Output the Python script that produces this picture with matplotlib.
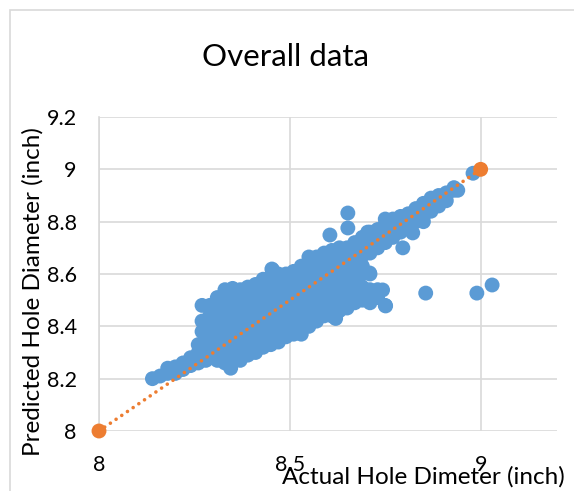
import matplotlib
matplotlib.use('Agg')
import matplotlib.pyplot as plt
from matplotlib.patches import Rectangle

plt.rcParams['font.family'] = ['Lato', 'DejaVu Sans']

# actual vs predicted hole diameter (inch)
actual = [
    8.14, 8.16, 8.18, 8.18, 8.20, 8.20, 8.22, 8.22, 8.24, 8.24,
    8.26, 8.26, 8.26, 8.28, 8.28, 8.28,
    8.27, 8.27, 8.27,
    8.29, 8.29, 8.29, 8.29, 8.29, 8.29,
    8.31, 8.31, 8.31, 8.31, 8.31, 8.31, 8.31,
    8.33, 8.33, 8.33, 8.33, 8.33, 8.33, 8.33, 8.33,
    8.345,
    8.35, 8.35, 8.35, 8.35, 8.35, 8.35, 8.35, 8.35,
    8.37, 8.37, 8.37, 8.37, 8.37, 8.37, 8.37, 8.37,
    8.39, 8.39, 8.39, 8.39, 8.39, 8.39, 8.39, 8.39,
    8.41, 8.41, 8.41, 8.41, 8.41, 8.41, 8.41, 8.41,
    8.43, 8.43, 8.43, 8.43, 8.43, 8.43, 8.43, 8.43,
    8.455,
    8.45, 8.45, 8.45, 8.45, 8.45, 8.45, 8.45, 8.45,
    8.47, 8.47, 8.47, 8.47, 8.47, 8.47, 8.47, 8.47,
    8.49, 8.49, 8.49, 8.49, 8.49, 8.49, 8.49,
    8.51, 8.51, 8.51, 8.51, 8.51, 8.51, 8.51,
    8.53, 8.53, 8.53, 8.53, 8.53, 8.53, 8.53, 8.53,
    8.55, 8.55, 8.55, 8.55, 8.55, 8.55, 8.55, 8.55,
    8.57, 8.57, 8.57, 8.57, 8.57, 8.57, 8.57,
    8.59, 8.59, 8.59, 8.59, 8.59, 8.59, 8.59,
    8.61, 8.61, 8.61, 8.61, 8.61, 8.61, 8.61,
    8.62,
    8.63, 8.63, 8.63, 8.63, 8.63, 8.63, 8.63,
    8.65, 8.65, 8.65, 8.65, 8.65, 8.65, 8.65,
    8.67, 8.67, 8.67, 8.67, 8.67, 8.67, 8.67,
    8.69, 8.69, 8.69, 8.69, 8.69, 8.69, 8.69,
    8.71, 8.71, 8.71, 8.71, 8.71, 8.71,
    8.73, 8.73, 8.73, 8.73, 8.73,
    8.75, 8.75, 8.75, 8.75, 8.75,
    8.77, 8.77, 8.77,
    8.79, 8.79, 8.79,
    8.81, 8.81, 8.81,
    8.83, 8.83, 8.83,
    8.85, 8.85, 8.85, 8.85,
    8.87, 8.87, 8.87,
    8.89, 8.89, 8.89,
    8.91, 8.91, 8.91,
    8.93, 8.93, 8.94, 8.98,
    8.652, 8.652, 8.605, 8.704, 8.822, 8.796, 8.709, 8.743, 8.751,
    8.856, 8.99, 9.03, 8.453,
]
predicted = [
    8.20, 8.21, 8.22, 8.24, 8.22, 8.245, 8.235, 8.26, 8.25, 8.28,
    8.26, 8.30, 8.33, 8.27, 8.31, 8.35,
    8.38, 8.42, 8.48,
    8.28, 8.32, 8.36, 8.40, 8.44, 8.48,
    8.27, 8.31, 8.35, 8.39, 8.43, 8.47, 8.51,
    8.26, 8.30, 8.34, 8.38, 8.42, 8.46, 8.50, 8.54,
    8.24,
    8.28, 8.32, 8.36, 8.40, 8.44, 8.48, 8.52, 8.545,
    8.27, 8.31, 8.35, 8.39, 8.43, 8.47, 8.51, 8.54,
    8.29, 8.33, 8.37, 8.41, 8.45, 8.49, 8.53, 8.55,
    8.30, 8.34, 8.38, 8.42, 8.46, 8.50, 8.54, 8.56,
    8.32, 8.36, 8.40, 8.44, 8.48, 8.52, 8.56, 8.58,
    8.615,
    8.33, 8.37, 8.41, 8.45, 8.49, 8.53, 8.57, 8.59,
    8.34, 8.38, 8.42, 8.46, 8.50, 8.54, 8.58, 8.60,
    8.36, 8.40, 8.44, 8.48, 8.52, 8.56, 8.60,
    8.37, 8.41, 8.45, 8.49, 8.53, 8.57, 8.61,
    8.37, 8.40, 8.44, 8.48, 8.52, 8.56, 8.60, 8.63,
    8.40, 8.43, 8.47, 8.51, 8.55, 8.59, 8.63, 8.665,
    8.42, 8.46, 8.50, 8.54, 8.58, 8.62, 8.665,
    8.44, 8.48, 8.52, 8.56, 8.60, 8.64, 8.68,
    8.44, 8.48, 8.53, 8.57, 8.61, 8.65, 8.69,
    8.43,
    8.46, 8.50, 8.55, 8.59, 8.63, 8.67, 8.70,
    8.47, 8.51, 8.55, 8.60, 8.64, 8.68, 8.70,
    8.49, 8.53, 8.57, 8.61, 8.65, 8.69, 8.72,
    8.50, 8.55, 8.60, 8.63, 8.67, 8.71, 8.74,
    8.49, 8.54, 8.60, 8.68, 8.72, 8.76,
    8.51, 8.54, 8.70, 8.74, 8.77,
    8.48, 8.72, 8.76, 8.79, 8.81,
    8.74, 8.78, 8.81,
    8.76, 8.80, 8.82,
    8.78, 8.81, 8.83,
    8.80, 8.83, 8.85,
    8.80, 8.82, 8.85, 8.87,
    8.84, 8.87, 8.89,
    8.86, 8.89, 8.90,
    8.88, 8.90, 8.91,
    8.92, 8.93, 8.92, 8.985,
    8.833, 8.776, 8.749, 8.76, 8.757, 8.70, 8.604, 8.539, 8.478,
    8.527, 8.527, 8.558, 8.619,
]

# reference points of the ideal line
ideal_x = [8, 9]
ideal_y = [8, 9]

blue = '#5B9BD5'
orange = '#ED7D31'
grid = '#D9D9D9'

fig = plt.figure(figsize=(5.74, 4.91), dpi=100)
fig.patches.append(Rectangle((10/574, -0.1), 1.2, 1 - 10/491 + 0.1,
                             transform=fig.transFigure, fill=False,
                             edgecolor=grid, lw=1.2))

ax = fig.add_axes([99/574, 60/491, 458/574, 314/491])
ax.scatter(actual, predicted, s=115, color=blue, edgecolors='none', zorder=3)
ax.scatter(ideal_x, ideal_y, s=115, color=orange, edgecolors='none', zorder=4,
           clip_on=False)
ax.plot(ideal_x, ideal_y, color=orange, lw=2.6, linestyle=(0, (0.01, 1.9)),
        dash_capstyle='round', zorder=5, clip_on=False)

ax.set_xlim(8, 9.2)
ax.set_ylim(8, 9.2)
ax.set_xticks([8, 8.5, 9])
ax.set_xticklabels(['8', '8.5', '9'])
ax.set_yticks([8, 8.2, 8.4, 8.6, 8.8, 9, 9.2])
ax.set_yticklabels(['8', '8.2', '8.4', '8.6', '8.8', '9', '9.2'])
ax.tick_params(length=0, labelsize=15.5, colors='#000000')
ax.tick_params(axis='y', pad=16)
ax.tick_params(axis='x', pad=17)
ax.grid(True, color=grid, lw=1.2, zorder=0)
ax.set_axisbelow(True)
for s in ax.spines.values():
    s.set_visible(False)
ax.plot([8, 8], [8, 9.2], color=grid, lw=1.2, zorder=1, clip_on=False)

fig.text(286/574, 1 - 57/491, 'Overall data', ha='center', va='center', fontsize=22.5)
fig.text(33/574, 1 - 292/491, 'Predicted Hole Diameter (inch)', rotation=90,
         ha='center', va='center', fontsize=17.5)
fig.text(565/574, 1 - 477/491, 'Actual Hole Dimeter (inch)', ha='right',
         va='center', fontsize=17.5)

fig.savefig('out.png', dpi=100)
